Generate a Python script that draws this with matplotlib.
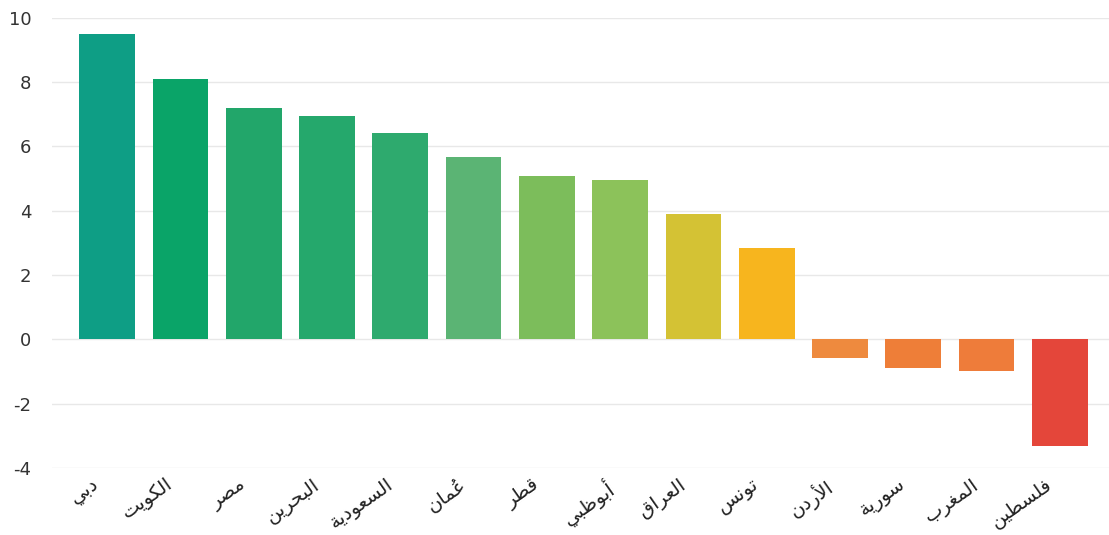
import matplotlib
matplotlib.use('Agg')
import matplotlib.pyplot as plt
import matplotlib.transforms as mtransforms

# البيانات
countries = ['دبي', 'الكويت', 'مصر', 'البحرين', 'السعودية', 'عُمان', 'قطر',
             'أبوظبي', 'العراق', 'تونس', 'الأردن', 'سورية', 'المغرب', 'فلسطين']
values = [9.5, 8.1, 7.2, 6.95, 6.42, 5.68, 5.07, 4.95, 3.9, 2.83,
          -0.57, -0.9, -0.98, -3.3]
colors = ['#0E9E85', '#0AA468', '#22A66A', '#25A86C', '#2EAA6E', '#5BB474', '#7CBD5B',
          '#8CC25A', '#D4C234', '#F7B51E', '#EE8A3E', '#EE7E38', '#EE7C3A', '#E4463A']
yticks = [-4, -2, 0, 2, 4, 6, 8, 10]

# formes de présentation arabes (isolée, finale, initiale, médiane)
BASE = {'ء': 0xFE80, 'آ': 0xFE81, 'أ': 0xFE83, 'ؤ': 0xFE85, 'إ': 0xFE87, 'ئ': 0xFE89,
        'ا': 0xFE8D, 'ب': 0xFE8F, 'ة': 0xFE93, 'ت': 0xFE95, 'ث': 0xFE99, 'ج': 0xFE9D,
        'ح': 0xFEA1, 'خ': 0xFEA5, 'د': 0xFEA9, 'ذ': 0xFEAB, 'ر': 0xFEAD, 'ز': 0xFEAF,
        'س': 0xFEB1, 'ش': 0xFEB5, 'ص': 0xFEB9, 'ض': 0xFEBD, 'ط': 0xFEC1, 'ظ': 0xFEC5,
        'ع': 0xFEC9, 'غ': 0xFECD, 'ف': 0xFED1, 'ق': 0xFED5, 'ك': 0xFED9, 'ل': 0xFEDD,
        'م': 0xFEE1, 'ن': 0xFEE5, 'ه': 0xFEE9, 'و': 0xFEED, 'ى': 0xFEEF, 'ي': 0xFEF1}
RIGHT_ONLY = set('آأؤإاةدذرزوى')
NO_JOIN = set('ء')
LAMALEF = {'آ': 0xFEF5, 'أ': 0xFEF7, 'إ': 0xFEF9, 'ا': 0xFEFB}
MARKS = set('\u064B\u064C\u064D\u064E\u064F\u0650\u0651\u0652')


def shape(word):
    # lettres + signes diacritiques attachés
    letters = []
    for c in word:
        if c in MARKS and letters:
            letters[-1][1] += c
        else:
            letters.append([c, ''])
    out = []
    i = 0
    prev_joins = False
    while i < len(letters):
        c, mk = letters[i]
        if c == 'ل' and i + 1 < len(letters) and letters[i + 1][0] in LAMALEF:
            out.append(mk + chr(LAMALEF[letters[i + 1][0]] + (1 if prev_joins else 0)))
            prev_joins = False
            i += 2
            continue
        nxt = letters[i + 1][0] if i + 1 < len(letters) else None
        can_left = c not in RIGHT_ONLY and c not in NO_JOIN
        join_next = can_left and nxt is not None and nxt in BASE
        b = BASE[c]
        if c in NO_JOIN:
            form = 0
        elif c in RIGHT_ONLY:
            form = 1 if prev_joins else 0
        else:
            if prev_joins and join_next:
                form = 3
            elif prev_joins:
                form = 1
            elif join_next:
                form = 2
            else:
                form = 0
        out.append(mk + chr(b + form))
        prev_joins = join_next
        i += 1
    return ''.join(reversed(out))


fig = plt.figure(figsize=(11.09, 5.35), dpi=100)
ax = fig.add_axes([0.047, 0.125, 0.953, 0.842])

x = list(range(len(countries)))
ax.bar(x, values, width=0.76, color=colors, zorder=3)

ax.set_xlim(-0.75, 13.67)
ax.set_ylim(-4, 10)
ax.set_yticks(yticks)
ax.set_yticklabels([str(v) for v in yticks], fontsize=13, color='#333333')
ax.yaxis.grid(True, color='#E8E8E8', linewidth=1, zorder=0)
ax.tick_params(axis='both', length=0)
ax.tick_params(axis='y', pad=15)
for s in ax.spines.values():
    s.set_visible(False)

ax.set_xticks(x)
ax.set_xticklabels([shape(c) for c in countries], rotation=35, ha='right',
                   va='top', rotation_mode='anchor', fontsize=14,
                   family=['DejaVu Sans'], color='#222222')
offset = mtransforms.ScaledTranslation(-15 / 100, -2 / 100, fig.dpi_scale_trans)
for lab in ax.get_xticklabels():
    lab.set_transform(lab.get_transform() + offset)

plt.savefig('out.png', dpi=100)
